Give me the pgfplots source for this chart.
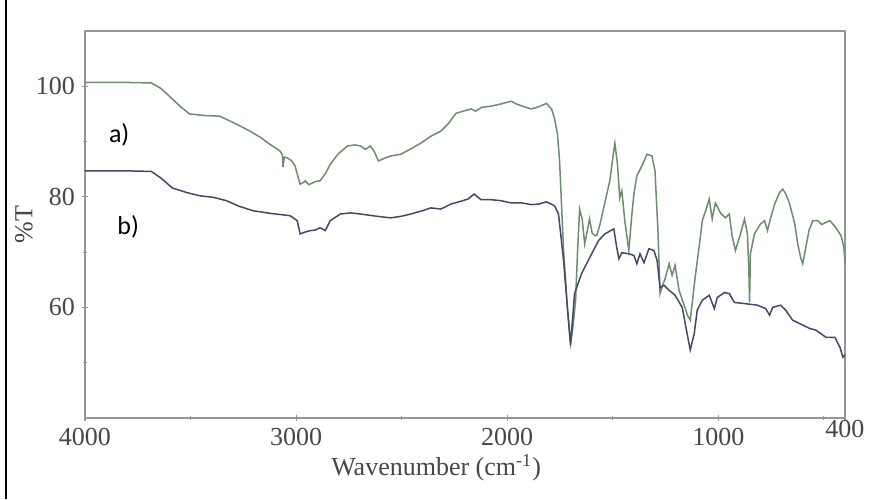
\documentclass[border=0pt]{standalone}
\usepackage{fontspec}
\setmainfont{Liberation Serif}
\newfontfamily\calib{Carlito}
\usepackage{pgfplots}
\pgfplotsset{compat=1.18}

\definecolor{axisgray}{RGB}{150,150,150}
\definecolor{labelgray}{RGB}{70,70,70}
\definecolor{specA}{RGB}{110,140,110}
\definecolor{specB}{RGB}{70,70,105}

% spectrum a) (upper, green)
\pgfplotstableread{
w v
4000 100.7
3900 100.7
3800 100.7
3686 100.6
3640 99.6
3600 98.2
3550 96.4
3505 95.0
3430 94.7
3362 94.6
3290 93.3
3219 91.9
3170 90.8
3124 89.5
3076 88.3
3065 87.6
3062 85.4
3056 87.2
3040 87.0
3020 86.5
3005 85.6
2990 83.5
2981 82.3
2965 82.6
2957 82.9
2940 82.2
2924 82.5
2905 82.8
2886 82.9
2860 84.3
2838 85.9
2800 87.8
2757 89.2
2720 89.4
2695 89.2
2671 88.6
2648 89.2
2630 88.2
2610 86.5
2580 87.0
2552 87.4
2505 87.7
2460 88.6
2410 89.7
2360 91.0
2314 91.9
2280 93.2
2243 95.1
2200 95.6
2171 95.9
2150 95.5
2120 96.2
2076 96.4
2030 96.8
1981 97.3
1957 96.8
1920 96.3
1886 95.9
1850 96.3
1814 96.9
1790 95.9
1776 94.2
1762 91.4
1752 86.5
1733 70.3
1715 60.0
1700 53.5
1690 56.0
1676 61.3
1667 70.0
1657 77.8
1645 76.0
1633 71.5
1620 74.0
1610 76.0
1598 73.5
1586 73.0
1576 73.0
1562 74.8
1540 78.5
1514 82.9
1500 87.0
1490 89.7
1478 86.0
1467 79.8
1457 81.1
1443 75.7
1424 70.3
1410 76.6
1400 80.5
1386 83.8
1362 85.6
1338 87.7
1314 87.4
1300 84.7
1286 73.9
1276 62.5
1264 64.0
1252 65.2
1233 67.9
1219 65.8
1205 67.6
1186 63.1
1162 60.4
1145 58.5
1133 57.7
1120 62.0
1110 65.4
1090 71.2
1076 75.7
1060 77.5
1043 79.6
1029 76.0
1014 78.9
990 77.1
967 76.2
948 76.9
935 73.0
919 70.3
895 73.3
876 76.0
862 73.3
855 66.0
852 60.9
848 69.7
829 73.3
800 75.1
781 75.7
767 73.9
752 76.2
733 78.7
710 80.8
695 81.4
680 80.5
662 78.7
638 75.1
624 71.5
610 69.0
600 67.9
586 70.8
570 74.0
552 75.7
529 75.7
510 75.0
495 75.3
471 75.7
443 74.4
419 73.0
405 70.8
400 68.0
}\specA

% spectrum b) (lower, dark blue)
\pgfplotstableread{
w v
4000 84.7
3900 84.7
3800 84.7
3686 84.6
3640 83.4
3586 81.6
3520 80.8
3457 80.2
3390 79.9
3329 79.3
3270 78.3
3205 77.5
3120 77.0
3029 76.6
2995 75.7
2981 73.3
2960 73.6
2933 73.9
2910 74.0
2886 74.4
2862 73.9
2838 75.7
2790 76.9
2743 77.1
2695 76.9
2620 76.5
2552 76.2
2500 76.5
2457 76.9
2410 77.4
2362 78.0
2314 77.8
2267 78.7
2220 79.2
2186 79.6
2157 80.5
2124 79.5
2080 79.5
2029 79.3
1981 78.9
1930 78.9
1886 78.6
1850 78.7
1814 79.1
1776 78.4
1757 76.9
1733 68.5
1715 60.0
1700 53.2
1681 62.5
1648 66.1
1600 69.7
1567 72.1
1538 73.3
1495 74.2
1481 70.8
1471 68.8
1457 69.9
1424 69.7
1400 69.4
1386 67.9
1371 69.7
1352 68.1
1329 70.6
1305 70.3
1290 68.5
1276 63.6
1257 64.0
1233 63.1
1205 62.2
1171 60.0
1148 55.3
1133 52.3
1114 55.3
1100 59.5
1076 61.3
1043 62.2
1019 59.8
1005 61.8
971 62.7
948 62.5
924 60.9
876 60.7
814 60.4
776 59.8
757 58.6
743 60.0
705 60.4
681 59.5
648 57.7
600 56.8
567 56.2
538 55.9
490 54.6
448 54.6
424 52.8
410 51.0
400 51.4
}\specB

\begin{document}
\begin{tikzpicture}
\useasboundingbox (-42.5pt,-40.5pt) rectangle (393pt,209pt);
\draw[black, line width=1pt] (-39.5pt,-40.5pt) -- (-39.5pt,209pt);
\begin{axis}[
    width=380pt,
    height=193.5pt,
    scale only axis,
    x dir=reverse,
    xmin=400, xmax=4000,
    ymin=40, ymax=110,
    xtick={4000,3000,2000,1000},
    xticklabels={4000,3000,2000,1000},
    extra x ticks={400},
    extra x tick labels={400},
    extra x tick style={xticklabel style={yshift=4pt}},
    minor xtick={3500,2500,1500,500},
    ytick={60,80,100},
    yticklabels={60,80,100},
    minor ytick={50,70,90},
    xtick pos=lower,
    ytick pos=left,
    tick align=center,
    major tick length=3pt,
    minor tick length=2pt,
    axis line style={draw=axisgray, line width=1pt},
    every tick/.style={axisgray, line width=0.6pt},
    ticklabel style={font=\fontsize{13}{15}\selectfont, text=labelgray},
    xlabel={Wavenumber (cm\textsuperscript{-1})},
    ylabel={\%T},
    every axis x label/.style={at={(axis description cs:0.462,0)}, anchor=center,
        yshift=-25pt, font=\fontsize{13}{15}\selectfont, text=labelgray},
    every axis y label/.style={at={(axis description cs:0,0.5)}, anchor=center,
        xshift=-30.5pt, rotate=90, font=\fontsize{13}{15}\selectfont, text=labelgray},
    clip=false,
]
\addplot[specA, line width=0.75pt] table[x=w, y=v] {\specA};
\addplot[specB, line width=0.75pt] table[x=w, y=v] {\specB};
\node[font=\calib\fontsize{13}{15}\selectfont] at (axis cs:3838,91.2) {a)};
\node[font=\calib\fontsize{13}{15}\selectfont] at (axis cs:3795,74.6) {b)};
\end{axis}
\end{tikzpicture}
\end{document}
